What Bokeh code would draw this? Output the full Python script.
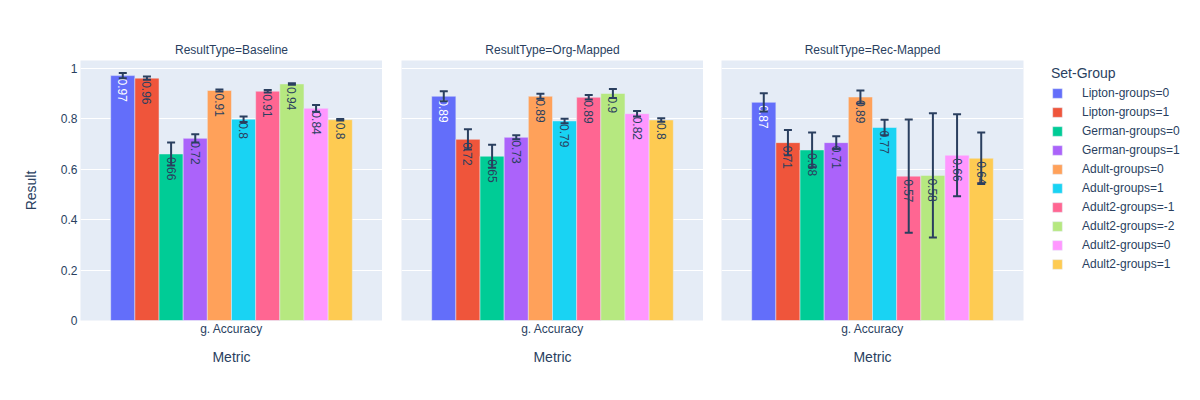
import math
from bokeh.plotting import figure
from bokeh.models import (ColumnDataSource, Range1d, FactorRange, FixedTicker, Whisker, TeeHead,
                          Legend, LegendItem, CustomJSTickFormatter)
from bokeh.transform import dodge
from bokeh.layouts import row
from bokeh.embed import file_html
from bokeh.resources import INLINE
from bokeh.core.properties import value

# ---------------- data ----------------
metric = ["g. Accuracy"]
result_types = ["Baseline", "Org-Mapped", "Rec-Mapped"]
set_groups = ["Lipton-groups=0", "Lipton-groups=1", "German-groups=0", "German-groups=1",
              "Adult-groups=0", "Adult-groups=1", "Adult2-groups=-1", "Adult2-groups=-2",
              "Adult2-groups=0", "Adult2-groups=1"]
colors = ["#636EFA", "#EF553B", "#00CC96", "#AB63FA", "#FFA15A",
          "#19D3F3", "#FF6692", "#B6E880", "#FF97FF", "#FECB52"]

baseline_vals = [0.972, 0.962, 0.661, 0.723, 0.913, 0.799, 0.910, 0.939, 0.842, 0.797]
baseline_err = [0.010, 0.006, 0.046, 0.016, 0.004, 0.011, 0.005, 0.003, 0.013, 0.003]
org_vals = [0.890, 0.719, 0.652, 0.727, 0.890, 0.792, 0.886, 0.901, 0.821, 0.796]
org_err = [0.020, 0.040, 0.046, 0.008, 0.010, 0.009, 0.009, 0.018, 0.011, 0.007]
rec_vals = [0.866, 0.706, 0.677, 0.706, 0.887, 0.766, 0.573, 0.576, 0.656, 0.644]
rec_err = [0.036, 0.050, 0.069, 0.025, 0.026, 0.031, 0.225, 0.247, 0.163, 0.102]

y_ticks = [0, 0.2, 0.4, 0.6, 0.8, 1]

panels = [
    (result_types[0], baseline_vals, baseline_err),
    (result_types[1], org_vals, org_err),
    (result_types[2], rec_vals, rec_err),
]

# ---------------- style ----------------
FONT = "Liberation Sans"
TXT = "#2a3f5f"
BG = "#E5ECF6"
n = len(set_groups)
bar_w = 0.8 / n
offsets = [-0.4 + bar_w * (i + 0.5) for i in range(n)]


def contrast(hexcol):
    r, g, b = int(hexcol[1:3], 16), int(hexcol[3:5], 16), int(hexcol[5:7], 16)
    return "white" if (r * 299 + g * 587 + b * 114) / 1000 < 128 else TXT


figs = []
left_borders = [80, 19, 18]
for k, (rtype, vals, errs) in enumerate(panels):
    last = k == len(panels) - 1
    p = figure(x_range=FactorRange(factors=metric, range_padding=0),
               y_range=Range1d(0, 1.032),
               frame_width=302, frame_height=260,
               min_border_left=left_borders[k], min_border_right=169 if last else 0,
               min_border_top=60, min_border_bottom=70,
               output_backend="svg", toolbar_location=None,
               title="ResultType=" + rtype)
    p.background_fill_color = BG
    p.border_fill_color = "white"
    p.outline_line_color = None
    p.title.align = "center"
    p.title.text_font = FONT
    p.title.text_font_size = "12px"
    p.title.text_font_style = "normal"
    p.title.text_color = TXT
    p.title.standoff = 7

    p.xgrid.grid_line_color = None
    p.ygrid.ticker = FixedTicker(ticks=y_ticks)
    p.ygrid.grid_line_color = "white"
    p.ygrid.grid_line_width = 1

    p.xaxis.axis_label = "Metric"
    p.xaxis.axis_line_color = None
    p.xaxis.major_tick_line_color = None
    p.xaxis.major_tick_out = 0
    p.xaxis.major_tick_in = 0
    p.xaxis.major_label_standoff = 1
    p.xaxis.axis_label_standoff = 10
    p.xaxis.major_label_text_font = FONT
    p.xaxis.major_label_text_font_size = "12px"
    p.xaxis.major_label_text_color = TXT
    p.xaxis.axis_label_text_font = FONT
    p.xaxis.axis_label_text_font_size = "14px"
    p.xaxis.axis_label_text_font_style = "normal"
    p.xaxis.axis_label_text_color = TXT

    if k == 0:
        p.yaxis.axis_label = "Result"
        p.yaxis.ticker = FixedTicker(ticks=y_ticks)
        p.yaxis.formatter = CustomJSTickFormatter(code="return String(Math.round(tick*10)/10);")
        p.yaxis.axis_line_color = None
        p.yaxis.major_tick_line_color = None
        p.yaxis.minor_tick_line_color = None
        p.yaxis.major_tick_out = 0
        p.yaxis.major_tick_in = 0
        p.yaxis.minor_tick_out = 0
        p.yaxis.major_label_standoff = 3
        p.yaxis.axis_label_standoff = 19
        p.yaxis.major_label_text_font = FONT
        p.yaxis.major_label_text_font_size = "12px"
        p.yaxis.major_label_text_color = TXT
        p.yaxis.axis_label_text_font = FONT
        p.yaxis.axis_label_text_font_size = "14px"
        p.yaxis.axis_label_text_font_style = "normal"
        p.yaxis.axis_label_text_color = TXT
    else:
        p.yaxis.visible = False

    bar_renderers = []
    for i, name in enumerate(set_groups):
        v, e = vals[i], errs[i]
        src = ColumnDataSource(dict(metric=metric, value=[v], upper=[v + e], lower=[v - e],
                                    label=[format(round(v, 2), "g")]))
        xpos = dodge("metric", offsets[i], range=p.x_range)
        r = p.vbar(x=xpos, top="value", bottom=0, width=bar_w, source=src,
                   fill_color=colors[i], line_color=BG, line_width=0.5)
        bar_renderers.append(r)
        p.text(x=xpos, y="value", text="label", source=src, angle=-math.pi / 2,
               text_align="left", text_baseline="middle", y_offset=3,
               text_font=value(FONT), text_font_size="12px", text_color=contrast(colors[i]))
        w = Whisker(source=src, base=dodge("metric", offsets[i], range=p.x_range),
                    upper="upper", lower="lower", dimension="height",
                    line_color=TXT, line_width=2, level="annotation",
                    upper_head=TeeHead(size=8, line_color=TXT, line_width=2),
                    lower_head=TeeHead(size=8, line_color=TXT, line_width=2))
        p.add_layout(w)

    if last:
        legend = Legend(items=[LegendItem(label=set_groups[i], renderers=[bar_renderers[i]])
                               for i in range(n)],
                        title="Set-Group", title_text_font=FONT, title_text_font_size="14px",
                        title_text_font_style="normal", title_text_color=TXT, title_standoff=5,
                        location=(28, 49), padding=0, margin=0, spacing=5,
                        glyph_width=12, glyph_height=12, label_height=12, label_standoff=19,
                        label_text_font=FONT, label_text_font_size="12px",
                        label_text_color=TXT, border_line_color=None,
                        background_fill_alpha=0)
        p.add_layout(legend, "right")
    figs.append(p)

layout = row(*figs)
open("out.html", "w").write(file_html(layout, INLINE))
